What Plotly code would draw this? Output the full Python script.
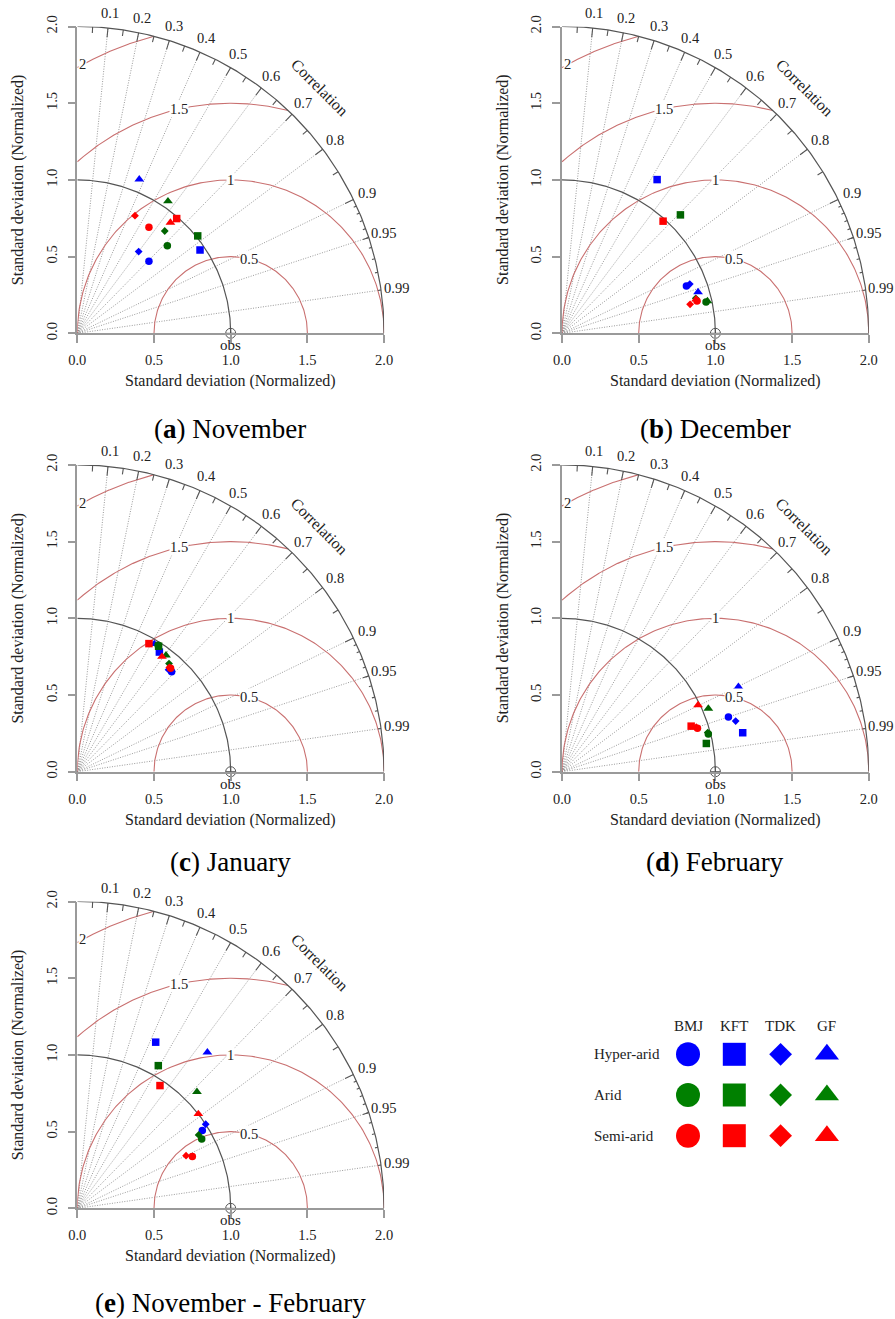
import numpy as np
import plotly.graph_objects as go

W, H = 895, 1319          # reference picture size
OFF = 0                   # page body margin is removed by the post script
FW, FH = W - OFF, H - OFF

# ---------------- data (normalised SD components) -------------
MODELS = ["BMJ", "KFT", "TDK", "GF"]
REGIONS = ["Hyper-arid", "Arid", "Semi-arid"]
CAPTION_KEYS = ["a", "b", "c", "d", "e"]
CAPTION_NAMES = ["November", "December", "January", "February", "November - February"]
CORR_LABELS = [0.1, 0.2, 0.3, 0.4, 0.5, 0.6, 0.7, 0.8, 0.9, 0.95, 0.99]
RMS_LEVELS = [0.5, 1.0, 1.5, 2.0]
RMS_TEXT = ["0.5", "1", "1.5", "2"]
AXIS_TICKS = [0.0, 0.5, 1.0, 1.5, 2.0]
AXIS_TICKTEXT = ["0.0", "0.5", "1.0", "1.5", "2.0"]

# order of each list: BMJ, KFT, TDK, GF
nov_hyper_x = [0.467, 0.800, 0.400, 0.404]
nov_hyper_y = [0.470, 0.543, 0.533, 1.004]
nov_arid_x = [0.587, 0.785, 0.570, 0.591]
nov_arid_y = [0.570, 0.635, 0.667, 0.861]
nov_semi_x = [0.467, 0.648, 0.376, 0.607]
nov_semi_y = [0.691, 0.748, 0.767, 0.722]

dec_hyper_x = [0.811, 0.620, 0.833, 0.887]
dec_hyper_y = [0.308, 1.002, 0.321, 0.269]
dec_arid_x = [0.939, 0.772, 0.872, 0.948]
dec_arid_y = [0.204, 0.772, 0.228, 0.210]
dec_semi_x = [0.880, 0.659, 0.835, 0.874]
dec_semi_y = [0.210, 0.731, 0.189, 0.222]

jan_hyper_x = [0.615, 0.535, 0.595, 0.502]
jan_hyper_y = [0.652, 0.780, 0.665, 0.833]
jan_arid_x = [0.527, 0.530, 0.598, 0.578]
jan_arid_y = [0.825, 0.818, 0.705, 0.759]
jan_semi_x = [0.608, 0.467, 0.600, 0.552]
jan_semi_y = [0.675, 0.835, 0.680, 0.750]

feb_hyper_x = [1.085, 1.178, 1.132, 1.150]
feb_hyper_y = [0.356, 0.254, 0.330, 0.553]
feb_arid_x = [0.954, 0.941, 0.950, 0.954]
feb_arid_y = [0.245, 0.184, 0.255, 0.412]
feb_semi_x = [0.883, 0.842, 0.875, 0.887]
feb_semi_y = [0.284, 0.297, 0.290, 0.434]

ndjf_hyper_x = [0.815, 0.511, 0.837, 0.848]
ndjf_hyper_y = [0.507, 1.083, 0.548, 1.017]
ndjf_arid_x = [0.811, 0.528, 0.791, 0.780]
ndjf_arid_y = [0.452, 0.930, 0.478, 0.759]
ndjf_semi_x = [0.750, 0.539, 0.709, 0.789]
ndjf_semi_y = [0.337, 0.800, 0.343, 0.615]

PANEL_DATA = [
    [(nov_hyper_x, nov_hyper_y), (nov_arid_x, nov_arid_y), (nov_semi_x, nov_semi_y)],
    [(dec_hyper_x, dec_hyper_y), (dec_arid_x, dec_arid_y), (dec_semi_x, dec_semi_y)],
    [(jan_hyper_x, jan_hyper_y), (jan_arid_x, jan_arid_y), (jan_semi_x, jan_semi_y)],
    [(feb_hyper_x, feb_hyper_y), (feb_arid_x, feb_arid_y), (feb_semi_x, feb_semi_y)],
    [(ndjf_hyper_x, ndjf_hyper_y), (ndjf_arid_x, ndjf_arid_y), (ndjf_semi_x, ndjf_semi_y)],
]

# ---------------- styles / layout ------------------------------------------------------
FONT = "Liberation Serif"
TXT = "#222222"
REGION_COLORS = ["#0000ff", "#006400", "#ff0000"]
LEGEND_COLORS = ["#0000ff", "#008000", "#ff0000"]
SYMBOLS = ["circle", "square", "diamond", "triangle-up"]
SIZES = [7.5, 7.5, 6, 8.5]
LEG_SIZES = [24, 23, 17.5, 21]
RMS_COLOR = "#c97070"
ARC_COLOR = "#555555"
AXIS_COLOR = "#9a9a9a"
DOT_COLOR = "#808080"

S = 153.4  # pixels per unit
ORIGINS = [(77.3, 333.3), (562.0, 333.3), (77.3, 771.7), (562.0, 771.7), (77.3, 1208.3)]
CAPTION_POS = [(230, 429), (715, 429), (230, 862), (715, 862), (230, 1303)]
RMS_LABEL_ANG = [76.0, 90.0, 103.0, 118.8]


def paper(px, py):
    """reference-picture pixel -> paper fraction"""
    return (px - OFF) / FW, 1 - (py - OFF) / FH


def note(px, py, text, size, **kw):
    x, y = paper(px, py)
    d = dict(x=x, y=y, xref="paper", yref="paper", text=text, showarrow=False,
             xanchor="center", yanchor="middle",
             font=dict(family=FONT, size=size, color=kw.pop("color", TXT)))
    d.update(kw)
    return d


fig = go.Figure()
annotations = []
layout_axes = {}

for k in range(5):
    xa = "x" if k == 0 else f"x{k + 1}"
    ya = "y" if k == 0 else f"y{k + 1}"
    X0, Y0 = ORIGINS[k]
    d0x, _ = paper(X0, 0)
    d1x, _ = paper(X0 + 2 * S, 0)
    _, d0y = paper(0, Y0)
    _, d1y = paper(0, Y0 - 2 * S)

    common = dict(range=[0, 2], showgrid=False, zeroline=False, showline=True,
                  linecolor=AXIS_COLOR, linewidth=1.5, ticks="outside", ticklen=8,
                  tickwidth=1.5, tickcolor=AXIS_COLOR, tickvals=AXIS_TICKS,
                  ticktext=AXIS_TICKTEXT, tickfont=dict(family=FONT, size=14.5, color=TXT),
                  fixedrange=True, ticklabelstandoff=5, automargin=False)
    layout_axes["xaxis" if k == 0 else f"xaxis{k + 1}"] = dict(
        common, domain=[d0x, d1x], anchor=ya)
    layout_axes["yaxis" if k == 0 else f"yaxis{k + 1}"] = dict(
        common, domain=[d0y, d1y], anchor=xa, tickangle=-90)

    # radial dotted correlation lines
    lx, ly = [], []
    for c in CORR_LABELS:
        a = np.arccos(c)
        lx += [0, 2 * np.cos(a), None]
        ly += [0, 2 * np.sin(a), None]
    fig.add_trace(go.Scatter(x=lx, y=ly, mode="lines", xaxis=xa, yaxis=ya,
                             line=dict(color=DOT_COLOR, width=0.8, dash="1px,1.5px"),
                             hoverinfo="skip", showlegend=False))

    # RMS contours centered at obs (1,0)
    rx, ry = [], []
    for r in RMS_LEVELS:
        cmin = (3 - r * r) / (2 * r)
        tmin = 0.0 if cmin >= 1 else np.arccos(cmin)
        tmax = np.pi if r <= 1 else np.arccos(-1.0 / r)
        t = np.linspace(tmin, tmax, 200)
        rx += list(1 + r * np.cos(t)) + [None]
        ry += list(r * np.sin(t)) + [None]
    fig.add_trace(go.Scatter(x=rx, y=ry, mode="lines", xaxis=xa, yaxis=ya,
                             line=dict(color=RMS_COLOR, width=1.1),
                             hoverinfo="skip", showlegend=False))

    # outer arc and reference arc
    t = np.linspace(0, np.pi / 2, 200)
    ax_ = list(2 * np.cos(t)) + [None] + list(np.cos(t))
    ay_ = list(2 * np.sin(t)) + [None] + list(np.sin(t))
    fig.add_trace(go.Scatter(x=ax_, y=ay_, mode="lines", xaxis=xa, yaxis=ya,
                             line=dict(color=ARC_COLOR, width=1.2),
                             hoverinfo="skip", showlegend=False))

    # tick marks on the correlation arc
    tx, ty = [], []
    for vals, inner in ((np.arange(0.1, 0.95, 0.1), 0.97),
                        (np.arange(0.05, 0.96, 0.1), 0.98),
                        (np.arange(0.91, 0.995, 0.01), 0.99)):
        for c in vals:
            a = np.arccos(c)
            tx += [2 * np.cos(a), 2 * inner * np.cos(a), None]
            ty += [2 * np.sin(a), 2 * inner * np.sin(a), None]
    fig.add_trace(go.Scatter(x=tx, y=ty, mode="lines", xaxis=xa, yaxis=ya,
                             line=dict(color=ARC_COLOR, width=1.1),
                             hoverinfo="skip", showlegend=False))

    # observation point
    fig.add_trace(go.Scatter(x=[1.0], y=[0.0], mode="markers", xaxis=xa, yaxis=ya,
                             marker=dict(symbol="circle-cross-open", size=10, opacity=1,
                                         color=ARC_COLOR, line=dict(width=1)),
                             cliponaxis=False, hoverinfo="skip", showlegend=False))

    # model points
    for i, (xs, ys) in enumerate(PANEL_DATA[k]):
        fig.add_trace(go.Scatter(x=xs, y=ys, mode="markers", xaxis=xa, yaxis=ya,
                                 marker=dict(symbol=SYMBOLS, size=SIZES, opacity=1,
                                             color=REGION_COLORS[i], line=dict(width=0)),
                                 cliponaxis=False, showlegend=False,
                                 text=[f"{REGIONS[i]} {m}" for m in MODELS]))

    # correlation labels
    for c in CORR_LABELS:
        a = np.arccos(c)
        annotations.append(note(X0 + 2.1 * np.cos(a) * S, Y0 - 2.1 * np.sin(a) * S,
                                f"{c:g}", 14.5))
    annotations.append(note(X0 + 1.58 * S, Y0 - 1.60 * S, "Correlation", 16, textangle=45))
    # RMS labels
    for r, lab, ang in zip(RMS_LEVELS, RMS_TEXT, RMS_LABEL_ANG):
        a = np.radians(ang)
        annotations.append(note(X0 + (1 + r * np.cos(a)) * S, Y0 - r * np.sin(a) * S,
                                lab, 14.5, bgcolor="white", borderpad=0))
    # obs label
    annotations.append(note(X0 + S, Y0 + 12, "obs", 15))
    # axis titles
    annotations.append(note(X0 + S, Y0 + 48, "Standard deviation (Normalized)", 16))
    annotations.append(note(X0 - 59, Y0 - S, "Standard deviation (Normalized)", 16,
                            textangle=-90))
    # caption
    annotations.append(note(CAPTION_POS[k][0], CAPTION_POS[k][1],
                            f"(<b>{CAPTION_KEYS[k]}</b>) {CAPTION_NAMES[k]}", 27,
                            color="black"))

# ---------------- legend (pixel axis overlay) -----------------------------------------
LEG_COL_X0, LEG_COL_DX = 688.0, 46.3
LEG_ROW_Y0, LEG_ROW_DY = 1054.3, 40.7
LEG_HEAD_Y = 1025.7
LEG_LABEL_X = 591.7
for i in range(len(REGIONS)):
    fig.add_trace(go.Scatter(
        x=[LEG_COL_X0 + j * LEG_COL_DX for j in range(len(MODELS))],
        y=[LEG_ROW_Y0 + i * LEG_ROW_DY] * len(MODELS),
        mode="markers", xaxis="x6", yaxis="y6",
        marker=dict(symbol=SYMBOLS, size=LEG_SIZES, opacity=1,
                    color=LEGEND_COLORS[i], line=dict(width=0)),
        cliponaxis=False, showlegend=False, hoverinfo="skip"))
    annotations.append(note(LEG_LABEL_X, LEG_ROW_Y0 + i * LEG_ROW_DY, REGIONS[i], 15,
                            xanchor="left"))
for j, m in enumerate(MODELS):
    annotations.append(note(LEG_COL_X0 + j * LEG_COL_DX, LEG_HEAD_Y, m, 15))

layout_axes["xaxis6"] = dict(domain=[0, 1], range=[OFF, W], visible=False, fixedrange=True,
                             anchor="y6", automargin=False)
layout_axes["yaxis6"] = dict(domain=[0, 1], range=[H, OFF], visible=False, fixedrange=True,
                             anchor="x6", automargin=False)

fig.update_layout(width=FW, height=FH, margin=dict(l=0, r=0, t=0, b=0),
                  paper_bgcolor="white", plot_bgcolor="rgba(0,0,0,0)",
                  showlegend=False, annotations=annotations, **layout_axes)

fig.write_html("out.html", config={"displayModeBar": False},
               post_script="document.body.style.margin='0';"
                           "document.body.style.overflow='hidden';")
